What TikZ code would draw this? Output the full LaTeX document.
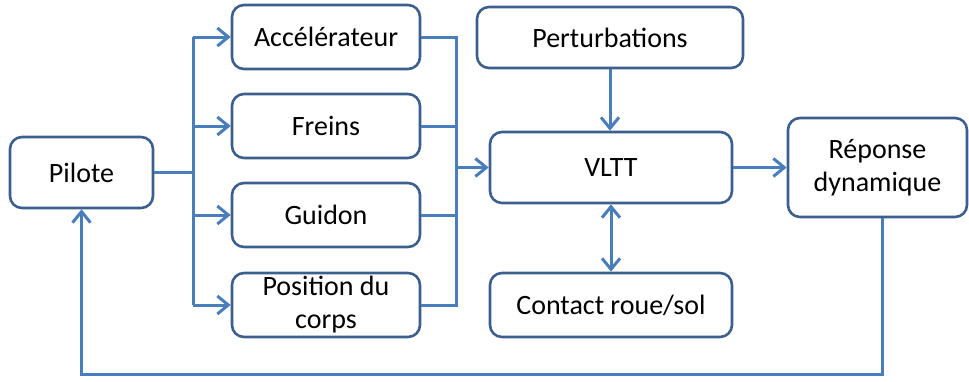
\documentclass[tikz,border=0pt]{standalone}
\usepackage{fontspec}
\setmainfont{Carlito}
\usetikzlibrary{arrows.meta,calc}
\definecolor{boxc}{HTML}{3D5F8E}
\definecolor{linec}{HTML}{4A7EBB}
\begin{document}
\begin{tikzpicture}[x=1pt,y=-1pt,
  blk/.style={draw=boxc, line width=2.6pt, rounded corners=12pt, fill=white,
    align=center, inner sep=0pt, font=\fontsize{28}{33}\selectfont},
  conn/.style={draw=linec, line width=3pt},
  tipb/.tip={Straight Barb[length=11pt,width=18pt,line width=3pt]},
  arr/.style={conn, -tipb},
  darr/.style={conn, tipb-tipb}]
\useasboundingbox (0,0) rectangle (969,381);
\node[blk, minimum width=143pt, minimum height=71pt] (pilote) at (81.5,172.5) {Pilote};
\node[blk, minimum width=188pt, minimum height=64pt] (accel) at (326,37) {Accélérateur};
\node[blk, minimum width=188pt, minimum height=64pt] (freins) at (326,126) {Freins};
\node[blk, minimum width=188pt, minimum height=64pt] (guidon) at (326,215) {Guidon};
\node[blk, minimum width=188pt, minimum height=64pt] (pos) at (326,305) {Position du\\corps};
\node[blk, minimum width=266pt, minimum height=61pt] (pert) at (610,37.5) {Perturbations};
\node[blk, minimum width=242pt, minimum height=71pt] (vltt) at (611,167.5) {VLTT};
\node[blk, minimum width=242pt, minimum height=64pt] (contact) at (611,305) {Contact roue/sol};
\node[blk, minimum width=179pt, minimum height=99pt] (rep) at (877.5,167.5) {Réponse\\dynamique};
% left bus
\coordinate (lb) at (193,172.5);
\draw[conn] (pilote.east) -- (lb);
\draw[conn] (lb |- accel.west) -- (lb |- pos.west);
\draw[arr] (lb |- accel.west) -- (accel.west);
\draw[arr] (lb |- freins.west) -- (freins.west);
\draw[arr] (lb |- guidon.west) -- (guidon.west);
\draw[arr] (lb |- pos.west) -- (pos.west);
% right bus
\coordinate (rb) at (456,167.5);
\draw[conn] (accel.east) -| (rb |- pos.east) -- (pos.east);
\draw[conn] (freins.east) -- (rb |- freins.east);
\draw[conn] (guidon.east) -- (rb |- guidon.east);
\draw[arr] (rb) -- (vltt.west);
% centre column
\draw[arr] (pert.south) -- (pert.south |- vltt.north);
\draw[darr] (vltt.south) -- (contact.north);
\draw[arr] (vltt.east) -- (rep.west);
% feedback
\coordinate (fb) at (81.5,374);
\draw[arr] ([xshift=4.5pt]rep.south) |- (fb) -- (pilote.south);
\end{tikzpicture}
\end{document}
